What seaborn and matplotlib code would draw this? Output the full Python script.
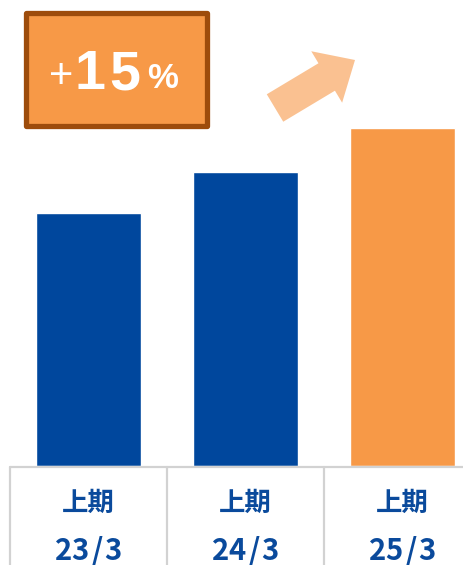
import matplotlib
matplotlib.use("Agg")
import matplotlib.pyplot as plt
import seaborn as sns
import pandas as pd
from matplotlib.patches import Rectangle, FancyArrow
from matplotlib.lines import Line2D

sns.set_theme(style="white")
plt.rcParams['font.family'] = ['Noto Sans CJK JP', 'DejaVu Sans']

categories = ["上期\n23/3", "上期\n24/3", "上期\n25/3"]
period_labels = ["上期", "上期", "上期"]
date_labels = ["23/3", "24/3", "25/3"]
values = [253, 294, 338]
bar_colors = ["#00479d", "#00479d", "#f79947"]
badge_text = ["+", "1", "5", "%"]

W, H = 463, 565
fig = plt.figure(figsize=(W / 100, H / 100), dpi=100)

def px(x0, y0, w, h):
    return [x0 / W, 1 - (y0 + h) / H, w / W, h / H]

ax = fig.add_axes(px(10, 0, 471, 466))
df = pd.DataFrame({"cat": categories, "val": values})
sns.barplot(data=df, x="cat", y="val", hue="cat", palette=bar_colors,
            legend=False, width=0.67, ax=ax, saturation=1)
ax.set_xlim(-0.5, 2.5)
ax.set_ylim(0, 466)
ax.axis("off")

ov = fig.add_axes([0, 0, 1, 1])
ov.set_xlim(0, W)
ov.set_ylim(H, 0)
ov.axis("off")

grid_c = "#d2d2d2"
ov.add_line(Line2D([10, 481], [467, 467], color=grid_c, lw=1.6))
for xv in [10, 167, 324]:
    ov.add_line(Line2D([xv, xv], [467, 570], color=grid_c, lw=1.6))

text_c = "#0a4a9c"
for i, (p, d) in enumerate(zip(period_labels, date_labels)):
    cx = 10 + 157 * (i + 0.5)
    ov.text(cx, 503, p, ha="center", va="center", fontsize=19,
            fontweight="bold", color=text_c)
    step = 16.5
    start = cx - step * (len(d) - 1) / 2
    for k, ch in enumerate(d):
        ov.text(start + step * k, 551, ch, ha="center", va="center",
                fontsize=21, fontweight="bold", color=text_c)

# badge
ov.add_patch(Rectangle((25.5, 12.5), 181, 113, facecolor="#f79947",
                       edgecolor="#9d4c0c", lw=3.8, joinstyle="round"))
ov.text(61, 77, badge_text[0], ha="center", va="center", fontsize=30,
        color="white", family=["Liberation Sans"])
ov.text(90, 75, badge_text[1], ha="center", va="center", fontsize=40,
        fontweight="bold", color="white", family=["Liberation Sans"])
ov.text(125, 75, badge_text[2], ha="center", va="center", fontsize=40,
        fontweight="bold", color="white", family=["Liberation Sans"])
ov.text(163, 79, badge_text[3], ha="center", va="center", fontsize=25,
        fontweight="bold", color="white", family=["Liberation Sans"])

# arrow
ov.add_patch(FancyArrow(275, 108, 80, -48, width=32, head_width=60,
                        head_length=33, length_includes_head=True,
                        color="#fac191", lw=0))

fig.savefig("out.png", dpi=100)
